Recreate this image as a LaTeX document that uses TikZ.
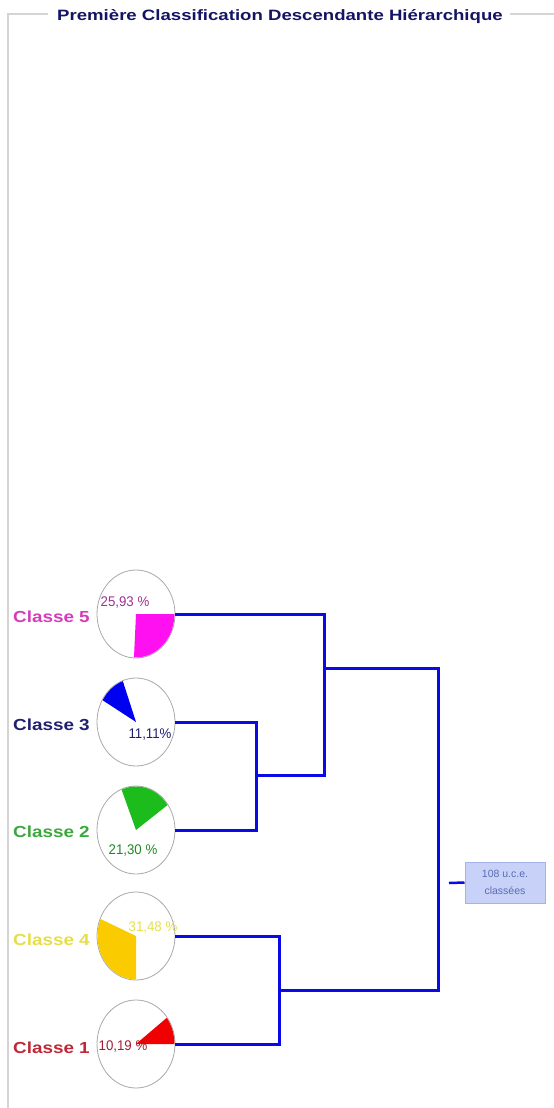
\documentclass[tikz,border=0pt]{standalone}
\usepackage{fontspec}
\setmainfont{Liberation Sans}
\usetikzlibrary{shapes.geometric}
\definecolor{frameg}{HTML}{D4D4D4}
\definecolor{titlec}{HTML}{141464}
\definecolor{linkc}{HTML}{0A0AE6}
\definecolor{ringc}{HTML}{A8A8A8}
\definecolor{boxfill}{HTML}{C8D2F8}
\definecolor{boxdraw}{HTML}{A4B2E8}
\definecolor{boxtext}{HTML}{5A6CB4}
\definecolor{cfive}{HTML}{D43CBC}
\definecolor{cfivep}{HTML}{A03092}
\definecolor{cthree}{HTML}{202070}
\definecolor{ctwo}{HTML}{3CA83C}
\definecolor{ctwop}{HTML}{208A20}
\definecolor{cfour}{HTML}{E6DE48}
\definecolor{cone}{HTML}{C02838}
\definecolor{conep}{HTML}{A02030}
\definecolor{pmag}{HTML}{FF10F0}
\definecolor{pblue}{HTML}{0000F0}
\definecolor{pgreen}{HTML}{1CBC1C}
\definecolor{pyellow}{HTML}{FACC00}
\definecolor{pred}{HTML}{F00000}
\tikzset{
  ring/.style={ellipse, draw=ringc, line width=0.8pt, minimum width=78pt, minimum height=88pt, inner sep=0pt},
  clabel/.style={anchor=east, font=\fontsize{16}{18}\selectfont\bfseries, inner sep=0pt, xscale=1.18},
  pct/.style={font=\fontsize{12.5}{14}\selectfont, inner sep=0pt, yscale=1.12, xscale=1.06},
  dlink/.style={draw=linkc, line width=3pt},
  framel/.style={draw=frameg, line width=1.2pt},
}
\begin{document}
\begin{tikzpicture}[x=1pt,y=-1pt]
\useasboundingbox (0,0) rectangle (554,1108);
% frame
\draw[framel] (48,14) -- (8,14) -- (8,1108);
\draw[framel] (510,14) -- (554,14);
\node[font=\fontsize{15}{17}\selectfont\bfseries, text=titlec, inner sep=0pt, xscale=1.24] (title) at (280,17) {Première Classification Descendante Hiérarchique};
% circles
\node[ring] (c5) at (136,614) {};
\node[ring] (c3) at (136,722) {};
\node[ring] (c2) at (136,830) {};
\node[ring] (c4) at (136,936) {};
\node[ring] (c1) at (136,1044) {};
% slices
\fill[pmag] (c5.center) -- ++(0:38.5 and 43.5) arc[start angle=0, end angle=93, x radius=38.5, y radius=43.5] -- cycle;
\fill[pblue] (c3.center) -- ++(-150:38.5 and 43.5) arc[start angle=-150, end angle=-110, x radius=38.5, y radius=43.5] -- cycle;
\fill[pgreen] (c2.center) -- ++(-112:38.5 and 43.5) arc[start angle=-112, end angle=-35, x radius=38.5, y radius=43.5] -- cycle;
\fill[pyellow] (c4.center) -- ++(-270:38.5 and 43.5) arc[start angle=-270, end angle=-157, x radius=38.5, y radius=43.5] -- cycle;
\fill[pred] (c1.center) -- ++(-37:38.5 and 43.5) arc[start angle=-37, end angle=0, x radius=38.5, y radius=43.5] -- cycle;
% percentages
\node[pct, text=cfivep] (p5) at (125,603) {25,93 \%};
\node[pct, text=cthree] (p3) at (150,735) {11,11\%};
\node[pct, text=ctwop] (p2) at (133,850) {21,30 \%};
\node[pct, text=cfour] (p4) at (153,927) {31,48 \%};
\node[pct, text=conep] (p1) at (123,1046) {10,19 \%};
% labels
\node[clabel, text=cfive] (l5) at (90,617) {Classe 5};
\node[clabel, text=cthree] (l3) at (90,725) {Classe 3};
\node[clabel, text=ctwo] (l2) at (90,832) {Classe 2};
\node[clabel, text=cfour] (l4) at (90,940) {Classe 4};
\node[clabel, text=cone] (l1) at (90,1048) {Classe 1};
% dendrogram
\coordinate (n32) at (256,775);
\coordinate (n532) at (324,668);
\coordinate (n41) at (279,990);
\coordinate (r) at (438,990);
\draw[dlink] (c3.east) -| (n32) |- (c2.east);
\draw[dlink] (c5.east) -| (n532) |- (n32);
\draw[dlink] (c4.east) -| (n41) |- (c1.east);
\draw[dlink] (n532) -| (r) -- (n41);
% root box
\node[draw=boxdraw, fill=boxfill, line width=1pt, minimum width=80pt, minimum height=41pt, inner sep=0pt, align=center, text=boxtext, font=\fontsize{10.5}{17}\selectfont] (box) at (505,882.5) {108 u.c.e.\\classées};
\coordinate (s) at (449,883);
\draw[draw=linkc, line width=2.5pt] (s) -- (box.west);
\end{tikzpicture}
\end{document}
